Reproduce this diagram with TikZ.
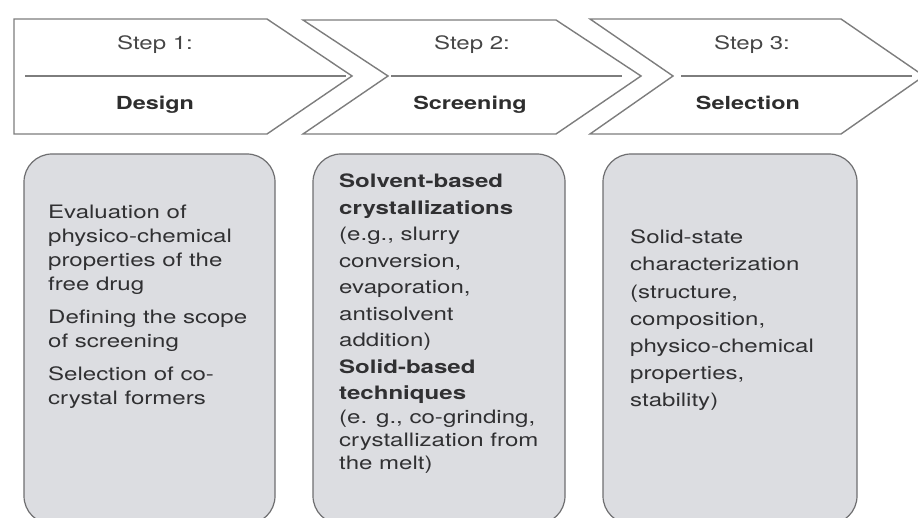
\documentclass[tikz,border=0pt]{standalone}
\usepackage{fontspec}
\setmainfont{TeX Gyre Heros}[FakeStretch=1.3]
\usetikzlibrary{calc}
\definecolor{linegray}{RGB}{125,125,125}
\definecolor{cardedge}{RGB}{110,110,112}
\definecolor{cardfill}{RGB}{220,221,225}
\definecolor{steptext}{RGB}{70,70,70}
\definecolor{bodytext}{RGB}{48,48,50}

\begin{document}
\begin{tikzpicture}[x=1pt, y=-1pt,
		arrowline/.style={line width=1.4pt, color=linegray, line join=miter},
		card/.style={draw=cardedge, fill=cardfill, line width=1.2pt, rounded corners=28pt},
		stepno/.style={font=\fontsize{18.5}{22}\selectfont, text=steptext, inner sep=0pt, anchor=base},
		stepname/.style={font=\fontsize{18}{22}\selectfont\bfseries, text=black!82, inner sep=0pt, anchor=base},
		cardtext/.style={align=left, anchor=north west, inner sep=0pt, text=bodytext}]
			%%%%% START %%%%%
			
			\useasboundingbox (0, 0) rectangle (918, 518);
			\clip (0, 0) rectangle (918, 518);
			
			% step arrows
			\draw[arrowline] (14, 19) -- (267, 19) -- (352, 76) -- (267, 134) -- (14, 134) -- cycle;
			\draw[arrowline] (25, 76) -- (346, 76);
			
			\draw[arrowline] (303, 20) -- (556, 20) -- (641, 76) -- (556, 134) -- (303, 134) -- (388, 76) -- cycle;
			\draw[arrowline] (391, 76) -- (622, 76);
			
			\draw[arrowline] (590, 19) -- (841, 19) -- (924, 76) -- (841, 134) -- (590, 134) -- (673, 76) -- cycle;
			\draw[arrowline] (681, 76) -- (912, 76);
			
			\node[stepno] (step1) at (155, 50) {Step 1:};
			\node[stepname] (design) at (155, 110) {Design};
			\node[stepno] (step2) at (472, 50) {Step 2:};
			\node[stepname] (screening) at (470, 110) {Screening};
			\node[stepno] (step3) at (752, 50) {Step 3:};
			\node[stepname] (selection) at (748, 110) {Selection};
			
			% cards
			\draw[card] (24, 154) rectangle (275, 524);
			\draw[card] (313, 154) rectangle (565, 524);
			\draw[card] (603, 154) rectangle (857, 524);
			
			\node[cardtext, font=\fontsize{18.5}{24}\selectfont] (design list) at (48, 204.5)
				{Evaluation of\\physico-chemical\\properties of the\\free drug\\[9pt]
				 Defining the scope\\of screening\\[9pt]
				 Selection of co-\\crystal formers};
			
			\node[cardtext, font=\fontsize{18.5}{26.5}\selectfont] (screening list) at (339, 173.7)
				{\textbf{Solvent-based}\\\textbf{crystallizations}\\(e.g., slurry\\conversion,\\evaporation,\\antisolvent\\addition)\\
				 \textbf{Solid-based}\\\textbf{techniques}\\[-3pt](e. g., co-grinding,\\[-3pt]crystallization from\\[-4pt]the melt)};
			
			\node[cardtext, font=\fontsize{18.5}{27.2}\selectfont] (selection list) at (630, 229.7)
				{Solid-state\\characterization\\(structure,\\composition,\\physico-chemical\\properties,\\stability)};
			
			%%%%% END %%%%%
\end{tikzpicture}
\end{document}
